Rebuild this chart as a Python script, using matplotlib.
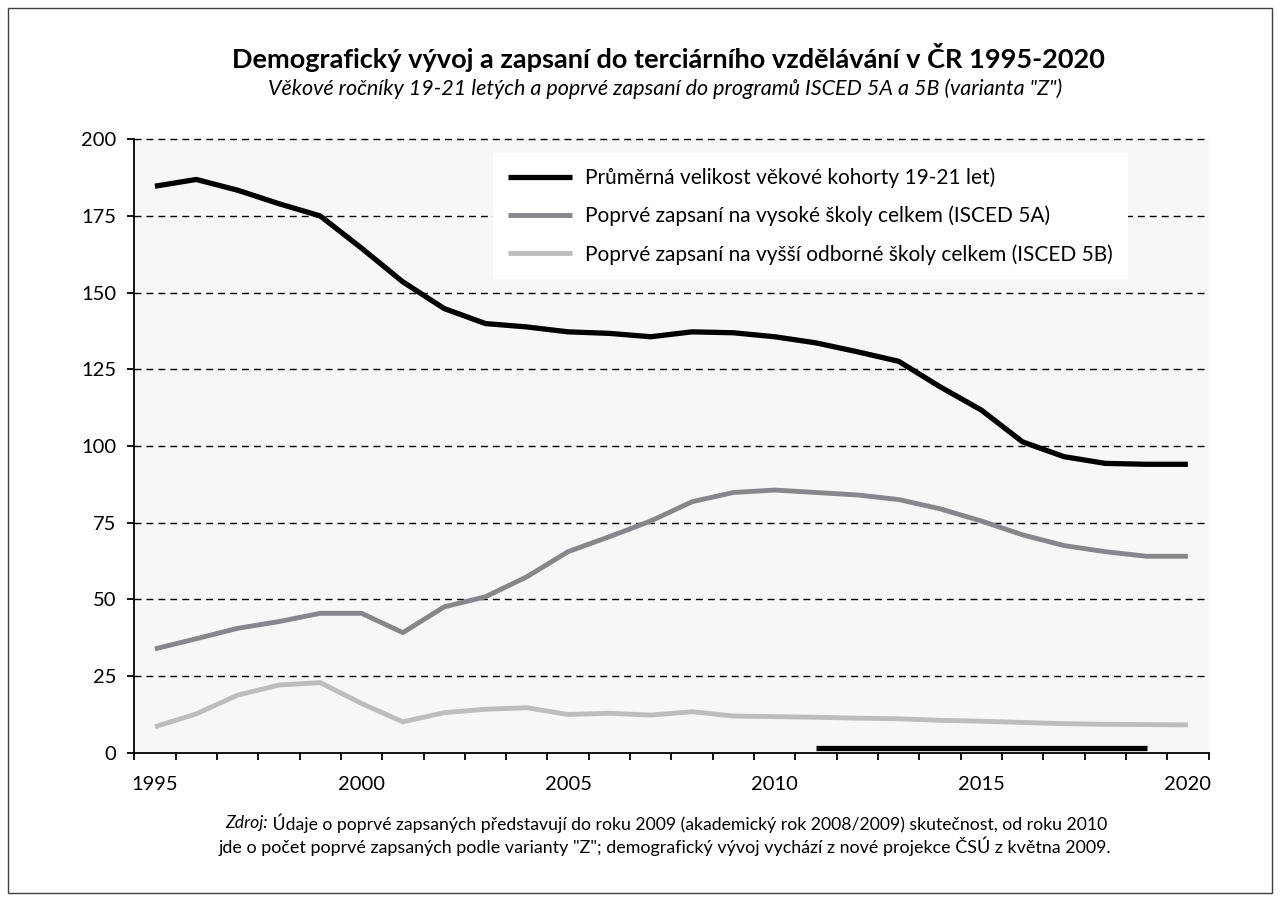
import numpy as np
import matplotlib
matplotlib.use("Agg")
import matplotlib.pyplot as plt
from matplotlib.patches import Rectangle

plt.rcParams['font.family'] = ['Lato', 'DejaVu Sans']

years = list(range(1995, 2021))
cohort = [184.7, 186.9, 183.4, 179.0, 175.0, 164.5, 153.5, 144.8, 139.9, 138.8,
          137.2, 136.7, 135.6, 137.2, 136.9, 135.6, 133.6, 130.7, 127.6, 119.3,
          111.7, 101.3, 96.5, 94.3, 94.0, 94.0]
isced5a = [33.8, 37.1, 40.5, 42.7, 45.4, 45.4, 39.1, 47.5, 50.8, 57.3,
           65.5, 70.4, 75.5, 81.8, 84.8, 85.6, 84.8, 84.0, 82.5, 79.5,
           75.5, 71.0, 67.5, 65.5, 64.0, 64.0]
isced5b = [8.4, 12.6, 18.7, 22.0, 22.8, 16.0, 10.0, 13.0, 14.1, 14.6,
           12.4, 12.8, 12.2, 13.3, 11.9, 11.7, 11.5, 11.2, 11.0, 10.5,
           10.2, 9.8, 9.4, 9.2, 9.1, 9.0]
bottom_series = [np.nan] * 16 + [1.4] * 9 + [np.nan]

labels = ["Průměrná velikost věkové kohorty 19-21 let)",
          "Poprvé zapsaní na vysoké školy celkem (ISCED 5A)",
          "Poprvé zapsaní na vyšší odborné školy celkem (ISCED 5B)"]
yticks = [0, 25, 50, 75, 100, 125, 150, 175, 200]
xlabels = [1995, 2000, 2005, 2010, 2015, 2020]

title = "Demografický vývoj a zapsaní do terciárního vzdělávání v ČR 1995-2020"
subtitle = "Věkové ročníky 19-21 letých a poprvé zapsaní do programů ISCED 5A a 5B (varianta \"Z\")"
src_lab = "Zdroj:"
src_1 = " Údaje o poprvé zapsaných představují do roku 2009 (akademický rok 2008/2009) skutečnost, od roku 2010"
src_2 = "jde o počet poprvé zapsaných podle varianty \"Z\"; demografický vývoj vychází z nové projekce ČSÚ z května 2009."

W, H = 1280, 902
fig = plt.figure(figsize=(W / 100, H / 100), dpi=100)
fig.patch.set_facecolor('white')
fig.add_artist(Rectangle((8 / W, 1 - 893 / H), (1272 - 8) / W, (893 - 8) / H,
                         transform=fig.transFigure, fill=False,
                         edgecolor='#404040', linewidth=1.0))

ax = fig.add_axes([134.3 / W, 1 - 752.5 / H, (1208.5 - 134.3) / W, (752.5 - 139.3) / H])
ax.set_facecolor('#f7f7f7')

for s in ['top', 'right']:
    ax.spines[s].set_visible(False)
for s in ['left', 'bottom']:
    ax.spines[s].set_linewidth(1.3)
    ax.spines[s].set_color('black')

ax.set_ylim(0, 200)
ax.set_xlim(1994.5, 2020.5)
ax.set_yticks(yticks)
ax.set_yticklabels([str(v) for v in yticks], fontsize=14.5)
ax.set_xticks(xlabels)
ax.set_xticklabels([str(v) for v in xlabels], fontsize=14.5)
ax.set_xticks(np.arange(1994.5, 2021.0, 1.0), minor=True)
ax.tick_params(axis='x', which='major', length=0, pad=17)
ax.tick_params(axis='x', which='minor', length=5, width=1.3, direction='out')
ax.tick_params(axis='y', length=5, width=1.3, direction='out', pad=8)

for v in yticks[1:]:
    ax.axhline(v, color='black', linewidth=1.0, linestyle=(0, (5, 3.6)), zorder=1,
               clip_on=False)

kw = dict(solid_joinstyle='round', solid_capstyle='butt', zorder=3)
ax.plot(years, cohort, color='black', linewidth=3.8, label=labels[0], **kw)
ax.plot(years, isced5a, color='#86878b', linewidth=3.5, label=labels[1], **kw)
ax.plot(years, isced5b, color='#bdbdbd', linewidth=3.5, label=labels[2], **kw)
ax.plot(years, bottom_series, color='black', linewidth=3.8, **kw)

leg = ax.legend(loc='upper left', bbox_to_anchor=(0.334, 0.978), fontsize=15,
                frameon=True, fancybox=False, framealpha=1, facecolor='white',
                edgecolor='none', handlelength=3.1, handletextpad=0.63,
                labelspacing=0.85, borderpad=0.7, borderaxespad=0)
leg.set_zorder(5)

fig.text(668 / W, 1 - 57 / H, title, ha='center', va='center', fontsize=19.5,
         fontweight='bold')
fig.text(665 / W, 1 - 89 / H, subtitle, ha='center', va='center', fontsize=15.5,
         style='italic')

# Source note: italic label followed by regular text, line centred
fig.canvas.draw()
r = fig.canvas.get_renderer()
t_lab = fig.text(0, 1 - 823 / H, src_lab, ha='left', va='center', fontsize=12.7,
                 style='italic')
t_1 = fig.text(0, 1 - 823 / H, src_1, ha='left', va='center', fontsize=12.7)
w_lab = t_lab.get_window_extent(r).width
w_1 = t_1.get_window_extent(r).width
x0 = 666 - (w_lab + w_1) / 2
t_lab.set_x(x0 / W)
t_1.set_x((x0 + w_lab) / W)
fig.text(665 / W, 1 - 846 / H, src_2, ha='center', va='center', fontsize=12.9)

fig.savefig('out.png', dpi=100, facecolor='white')
